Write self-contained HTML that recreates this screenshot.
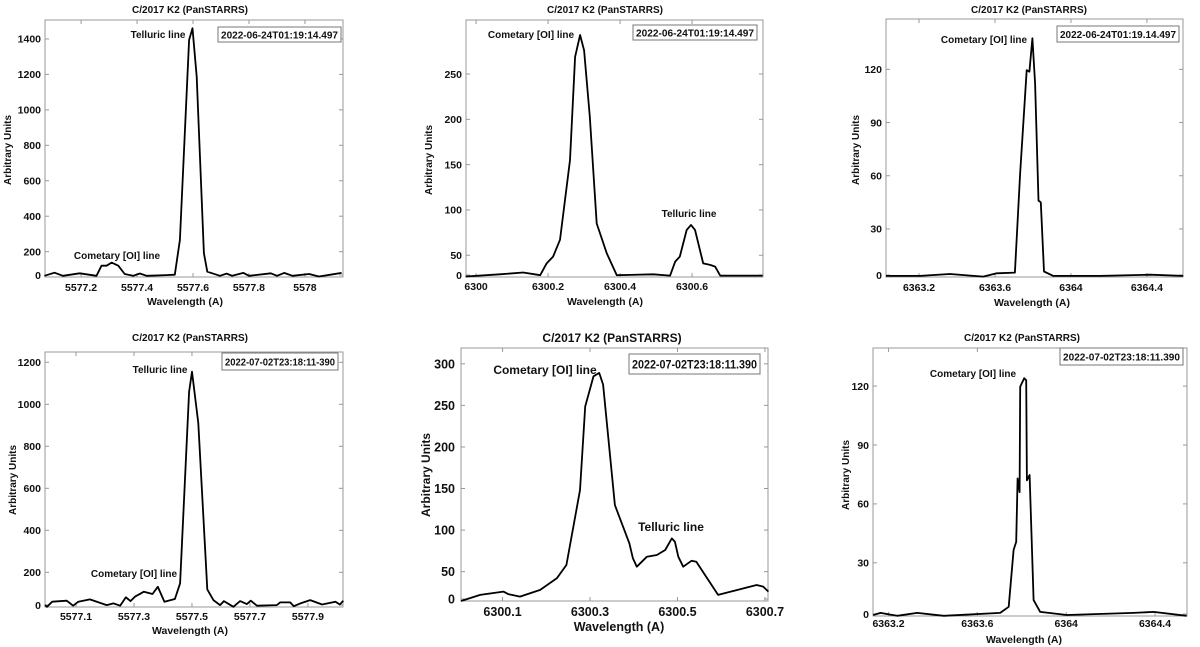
<!DOCTYPE html>
<html><head><meta charset="utf-8"><style>
html,body{margin:0;padding:0;background:#fff;}
svg{display:block;font-family:"Liberation Sans",sans-serif;font-weight:bold;}
</style></head><body>
<svg id="fig" width="1200" height="647" viewBox="0 0 1200 647" xmlns="http://www.w3.org/2000/svg"></svg>
<script>
// ---- Data arrays (wavelength in A, intensity in arbitrary units) ----
const p1Wave=[5577.069,5577.105,5577.135,5577.195,5577.255,5577.273,5577.291,5577.309,5577.333,5577.356,5577.386,5577.41,5577.434,5577.505,5577.535,5577.553,5577.586,5577.598,5577.613,5577.639,5577.651,5577.696,5577.72,5577.74,5577.78,5577.8,5577.878,5577.9,5577.926,5577.955,5578.015,5578.05,5578.1,5578.131];
const p1Val=[64,81,64,78,64,121,121,138,121,74,64,77,64,68,70,266,1394,1460,1187,191,87,64,76,64,80,64,78,64,80,64,74,60,72,80];
const p1Ticks=[0,200,400,600,800,1000,1200,1400];
const p1XTicks=[5577.2,5577.4,5577.6,5577.8,5578];

const p2Wave=[6299.971,6300.066,6300.131,6300.178,6300.196,6300.214,6300.233,6300.261,6300.275,6300.289,6300.3,6300.316,6300.335,6300.363,6300.391,6300.492,6300.539,6300.553,6300.566,6300.585,6300.597,6300.608,6300.631,6300.65,6300.664,6300.678,6300.796];
const p2Val=[26.5,29,31,28,41,48.5,67,155,269,293,276,203,85,52,28,29,27.6,43,48.5,78,83.5,78,41,39.4,37.5,27.6,27.6];
const p2Ticks=[0,50,100,150,200,250];
const p2XTicks=[6300,6300.2,6300.4,6300.6];

const p3Wave=[6363.026,6363.205,6363.363,6363.538,6363.609,6363.705,6363.732,6363.767,6363.781,6363.797,6363.811,6363.829,6363.841,6363.858,6363.907,6364.153,6364.416,6364.591];
const p3Val=[3.5,3.5,4.6,3.1,5,5.4,61,119.6,118.7,137.5,112,46,45,6,3.5,3.5,4.2,3.5];
const p3Ticks=[0,30,60,90,120];
const p3XTicks=[6363.2,6363.6,6364,6364.4];

const p4Wave=[5576.993,5577.0,5577.018,5577.068,5577.09,5577.108,5577.148,5577.206,5577.229,5577.252,5577.272,5577.288,5577.303,5577.334,5577.364,5577.382,5577.405,5577.441,5577.459,5577.49,5577.5,5577.522,5577.553,5577.574,5577.597,5577.61,5577.643,5577.666,5577.689,5577.703,5577.724,5577.793,5577.804,5577.839,5577.851,5577.874,5577.908,5577.949,5577.995,5578.01,5578.022];
const p4Val=[44,36,60,65,41,60,71,44,52,41,81,63,84,108,97,131,60,73,148,1060,1155,910,119,68,44,63,36,63,49,65,41,44,57,57,39,52,68,47,60,47,65];
const p4Ticks=[0,200,400,600,800,1000,1200];
const p4XTicks=[5577.1,5577.3,5577.5,5577.7,5577.9];

const p5Wave=[6300.005,6300.049,6300.102,6300.113,6300.14,6300.186,6300.224,6300.246,6300.277,6300.289,6300.308,6300.321,6300.33,6300.357,6300.39,6300.398,6300.407,6300.43,6300.453,6300.472,6300.487,6300.494,6300.502,6300.513,6300.532,6300.543,6300.593,6300.681,6300.696,6300.708];
const p5Val=[14.7,22,26,23,20,28,42,58,148,248.6,285,289,275,130,84,66,56,68,70,76,90,86,68,56,63,62,22,34,32,26];
const p5Ticks=[0,50,100,150,200,250,300];
const p5XTicks=[6300.1,6300.3,6300.5,6300.7];

const p6Wave=[6363.131,6363.164,6363.239,6363.329,6363.449,6363.703,6363.741,6363.763,6363.775,6363.781,6363.79,6363.793,6363.8,6363.811,6363.82,6363.823,6363.835,6363.853,6363.883,6364.003,6364.303,6364.393,6364.542];
const p6Val=[3.4,4.5,3,4.5,3,4.5,7.6,36.5,40.7,73,66,119.7,121.4,124,123,72,74.7,11,5,3.4,4.5,5,3];
const p6Ticks=[0,30,60,90,120];
const p6XTicks=[6363.2,6363.6,6364,6364.4];

// ---- Layout ----
const NS="http://www.w3.org/2000/svg";
const svg=document.getElementById('fig');
function mk(tag,attrs,parent){const e=document.createElementNS(NS,tag);for(const k in attrs)e.setAttribute(k,attrs[k]);(parent||svg).appendChild(e);return e;}

const panels=[
 {id:'p1',wave:p1Wave,val:p1Val,yt:p1Ticks,xt:p1XTicks,L:45,R:343,T:20,B:277,x0:5577.071,x1:5578.136,y0:57,y1:1507,fs:10.5,
  title:[190,13],date:'2022-06-24T01:19:14.497',db:[218,27,123,15],xlab:[185,305],ylab:[7,150],xtY:291,ytX:41,
  notes:[['Telluric line',158,38],['Cometary [OI] line',117,259]]},
 {id:'p2',wave:p2Wave,val:p2Val,yt:p2Ticks,xt:p2XTicks,L:466,R:763,T:20,B:277,x0:6299.972,x1:6300.797,y0:26,y1:309.6,fs:10.5,
  title:[605,13],date:'2022-06-24T01:19:14.497',db:[633,25,124,15],xlab:[605,305],ylab:[428,160],xtY:290,ytX:462,
  notes:[['Cometary [OI] line',531,38],['Telluric line',689,217]]},
 {id:'p3',wave:p3Wave,val:p3Val,yt:p3Ticks,xt:p3XTicks,L:886,R:1183,T:19,B:277,x0:6363.026,x1:6364.59,y0:2.9,y1:148.4,fs:10.5,
  title:[1029,13],date:'2022-06-24T01:19.14.497',db:[1057,26,122,16],xlab:[1032,306],ylab:[855,150],xtY:291,ytX:882,
  notes:[['Cometary [OI] line',984,43]]},
 {id:'p4',wave:p4Wave,val:p4Val,yt:p4Ticks,xt:p4XTicks,L:45,R:343,T:352,B:607,x0:5576.993,x1:5578.021,y0:35,y1:1249,fs:10.5,
  title:[190,341],date:'2022-07-02T23:18:11-390',db:[222,353,116,17],xlab:[190,634],ylab:[12,480],xtY:620,ytX:41,
  notes:[['Telluric line',160,373],['Cometary [OI] line',134,577]]},
 {id:'p5',wave:p5Wave,val:p5Val,yt:p5Ticks,xt:p5XTicks,L:461,R:768,T:348,B:601,x0:6300.005,x1:6300.707,y0:14.7,y1:319,fs:12.5,
  title:[612,342],date:'2022-07-02T23:18:11.390',db:[629,354,131,20],xlab:[619,631],ylab:[426,475],xtY:616,ytX:455,
  notes:[['Cometary [OI] line',545,374],['Telluric line',671,531]]},
 {id:'p6',wave:p6Wave,val:p6Val,yt:p6Ticks,xt:p6XTicks,L:873,R:1187,T:348,B:616,x0:6363.13,x1:6364.544,y0:2.9,y1:139.4,fs:10.5,
  title:[1022,341],date:'2022-07-02T23:18:11.390',db:[1060,348,123,17],xlab:[1024,643],ylab:[845,475],xtY:627,ytX:869,
  notes:[['Cometary [OI] line',973,377]]}
];

panels.forEach(p=>{
  const g=mk('g',{});
  
  
  const xs=w=>p.L+(w-p.x0)/(p.x1-p.x0)*(p.R-p.L);
  const ys=v=>p.B-(v-p.y0)/(p.y1-p.y0)*(p.B-p.T);
  const box=mk('rect',{x:p.L,y:p.T,width:p.R-p.L,height:p.B-p.T,fill:'none',stroke:'#999','stroke-width':1},g);
  
  
  p.yt.forEach(t=>{
    let y=ys(t); if(y>p.B-2)y=p.B-2;
    mk('line',{x1:p.L,x2:p.L+4,y1:y,y2:y,stroke:'#999'},g);
    mk('line',{x1:p.R,x2:p.R-4,y1:y,y2:y,stroke:'#999'},g);
    const tx=mk('text',{x:p.ytX,y:y+p.fs*0.36,'text-anchor':'end','font-size':p.fs,fill:'#111'},g);
    tx.textContent=t;
    
    
  });
  p.xt.forEach(t=>{
    const x=xs(t);
    mk('line',{x1:x,x2:x,y1:p.B,y2:p.B-4,stroke:'#999'},g);
    mk('line',{x1:x,x2:x,y1:p.T,y2:p.T+4,stroke:'#999'},g);
    const tx=mk('text',{x:x,y:p.xtY,'text-anchor':'middle','font-size':p.fs,fill:'#111'},g);
    tx.textContent=t;
    
    
  });
  const d=p.wave.map((w,i)=>(i?'L':'M')+xs(w).toFixed(1)+','+ys(p.val[i]).toFixed(1)).join('');
  const path=mk('path',{d:d,fill:'none',stroke:'#000','stroke-width':1.8,'stroke-linejoin':'round'},g);
  
  
  const ti=mk('text',{x:p.title[0],y:p.title[1],'text-anchor':'middle','font-size':p.fs-0.5,fill:'#111'},g);
  ti.textContent='C/2017 K2 (PanSTARRS)';
  
  
  const xl=mk('text',{x:p.xlab[0],y:p.xlab[1],'text-anchor':'middle','font-size':p.fs,fill:'#111'},g);
  xl.textContent='Wavelength (A)';
  
  
  const yl=mk('text',{x:0,y:0,'text-anchor':'middle','font-size':p.fs-0.5,fill:'#111',transform:`translate(${p.ylab[0]+4},${p.ylab[1]}) rotate(-90)`},g);
  yl.textContent='Arbitrary Units';
  
  
  const db=mk('rect',{x:p.db[0],y:p.db[1],width:p.db[2],height:p.db[3],fill:'#fff',stroke:'#777','stroke-width':1},g);
  
  
  const dt=mk('text',{x:p.db[0]+p.db[2]/2,y:p.db[1]+p.db[3]/2+p.fs*0.36,'text-anchor':'middle','font-size':p.fs-0.5,fill:'#111',textLength:p.db[2]-6,lengthAdjust:'spacingAndGlyphs'},g);
  dt.textContent=p.date;
  
  
  p.notes.forEach(n=>{
    const a=mk('text',{x:n[1],y:n[2],'text-anchor':'middle','font-size':p.fs-0.5,fill:'#111'},g);
    a.textContent=n[0];
    
    
  });
});
</script>
</body></html>
